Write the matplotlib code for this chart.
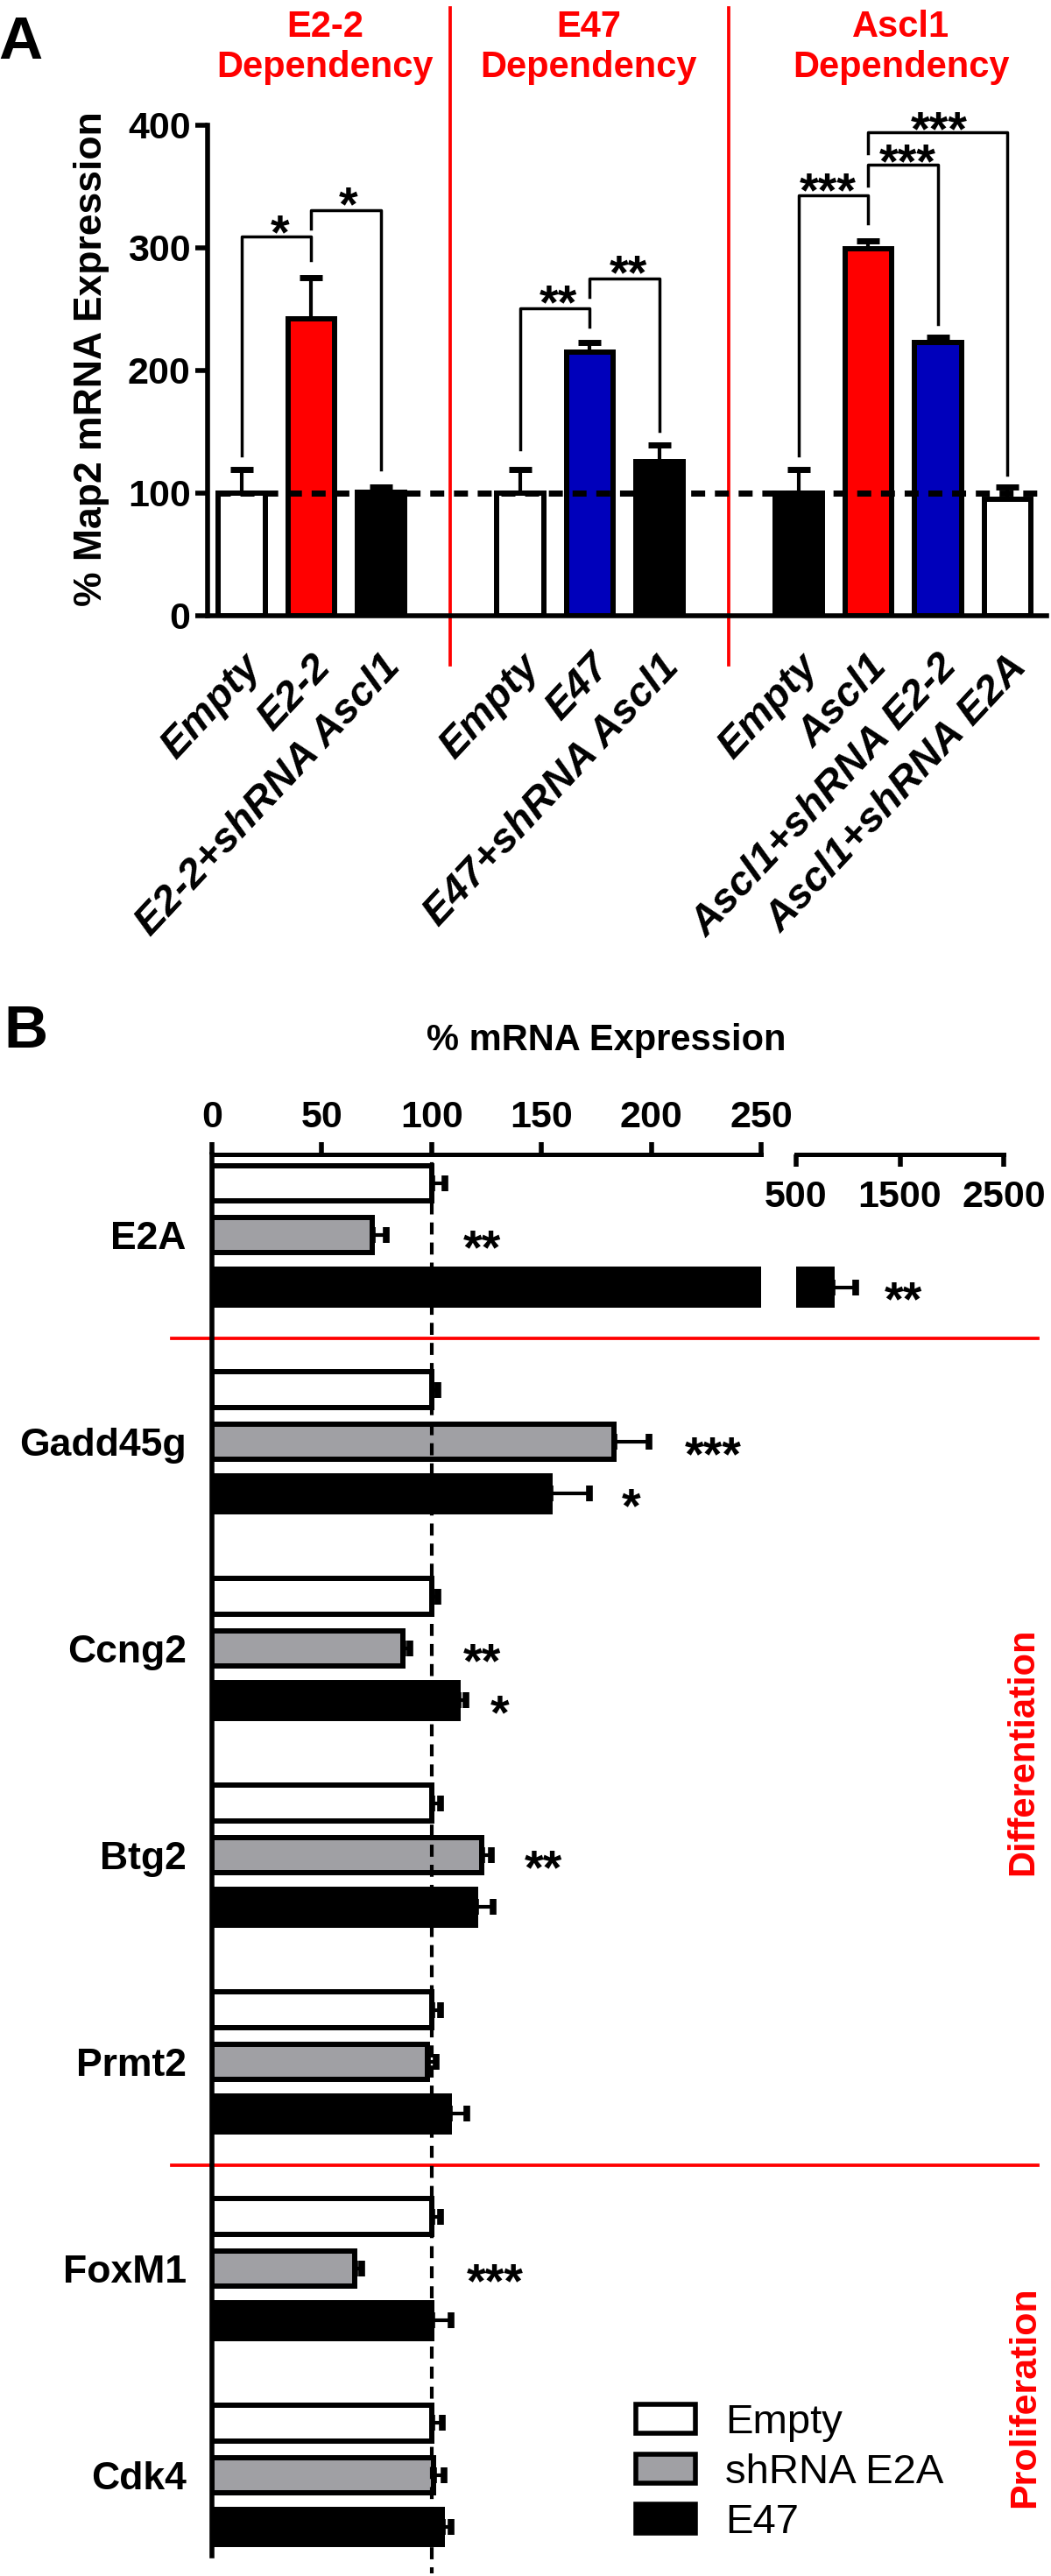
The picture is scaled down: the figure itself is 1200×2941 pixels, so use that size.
import matplotlib
matplotlib.use("Agg")
import matplotlib.pyplot as plt
from matplotlib.patches import Patch
from matplotlib import transforms as mtrans

plt.rcParams['font.family'] = ['Liberation Sans', 'DejaVu Sans']

# ---- panel A: Map2 expression ----
a_labels = ['Empty', 'E2-2', 'E2-2+shRNA Ascl1',
            'Empty', 'E47', 'E47+shRNA Ascl1',
            'Empty', 'Ascl1', 'Ascl1+shRNA E2-2', 'Ascl1+shRNA E2A']
a_pos = [0, 1, 2, 4, 5, 6, 8, 9, 10, 11]
a_vals = [100, 242, 101, 100, 215, 126, 100, 299, 223, 95]
a_sem = [19, 34, 4, 19, 8, 13, 19, 7, 4, 10]
a_colors = ['white', '#ff0000', 'black', 'white', '#0000bb', 'black',
            'black', '#ff0000', '#0000bb', 'white']
a_titles = ['E2-2\nDependency', 'E47\nDependency', 'Ascl1\nDependency']
a_title_x = [1.2, 4.98, 9.47]
a_dividers = [3, 7]
# brackets: x1, x2, top, left leg end, right leg end, stars, star x, star y
a_brackets = [
    (0, 1, 309, 131, 290, '*', 0.55, 323),
    (1, 2, 331, 316, 119, '*', 1.53, 346),
    (4, 5, 251, 136, 236, '**', 4.55, 266),
    (5, 6, 275, 260, 151, '**', 5.55, 290),
    (8, 9, 343, 131, 320, '***', 8.42, 357),
    (9, 10, 368, 351, 238, '***', 9.56, 381),
    (9, 11, 394, 377, 115, '***', 10.02, 407),
]

# ---- panel B: mRNA expression per gene ----
b_genes = ['E2A', 'Gadd45g', 'Ccng2', 'Btg2', 'Prmt2', 'FoxM1', 'Cdk4']
b_series = ['Empty', 'shRNA E2A', 'E47']
b_colors = ['white', '#a0a0a4', 'black']
b_empty = [100, 100, 100, 100, 100, 100, 100]
b_empty_sem = [6, 3, 3, 4, 4, 4, 5]
b_sh = [73, 183, 87, 123, 98, 65, 101]
b_sh_sem = [6.5, 16, 3, 4, 4, 3, 4.5]
b_e47 = [850, 154, 112, 120, 108, 100, 105]
b_e47_sem = [220, 18, 3.5, 8, 8, 9, 4]
b_ticks1 = [0, 50, 100, 150, 200, 250]
b_ticks2 = [500, 1500, 2500]
# stars: gene index, series index, x position, text
b_stars = [(0, 1, 123, '**'), (0, 2, 1533, '**'), (1, 1, 228, '***'), (1, 2, 191, '*'),
           (2, 1, 123, '**'), (2, 2, 131, '*'), (3, 1, 151, '**'), (5, 1, 129, '***')]
b_dividers = [0.5, 4.5]

W, H = 1200, 2941
fig = plt.figure(figsize=(W / 100, H / 100), dpi=100)


def fx(px):
    return px / W


def fy(py):
    return 1 - py / H


def box(l, t, r, b):
    return [fx(l), fy(b), fx(r) - fx(l), fy(t) - fy(b)]


STAR = 40

# =========================
# Panel A
# =========================
ax = fig.add_axes(box(237, 143, 1195, 703))
ax.bar(a_pos, a_vals, width=0.67, color=a_colors, edgecolor='black', linewidth=4.3, zorder=3)
ax.errorbar(a_pos, a_vals, yerr=[[0] * len(a_sem), a_sem], fmt='none', ecolor='black',
            elinewidth=3, capsize=9.4, capthick=5, zorder=2.5)
ax.axhline(100, xmin=0.01, xmax=1, color='black', lw=5, dashes=(2.3, 1.6), zorder=4)

ax.set_xlim(-0.49, 11.56)
ax.set_ylim(0, 400)
for s in ['top', 'right']:
    ax.spines[s].set_visible(False)
for s in ['left', 'bottom']:
    ax.spines[s].set_linewidth(4)
ax.set_yticks([0, 100, 200, 300, 400])
ax.tick_params(axis='y', length=10, width=4, pad=4, labelsize=31)
for t in ax.get_yticklabels():
    t.set_fontweight('bold')
ax.set_xticks(a_pos)
ax.set_xticklabels(a_labels, rotation=47, ha='right', va='center', rotation_mode='anchor',
                   fontsize=34, fontweight='bold', fontstyle='italic')
ax.tick_params(axis='x', length=0, pad=37)
shift = mtrans.ScaledTranslation(0.15, 0, fig.dpi_scale_trans)
for t in ax.get_xticklabels():
    t.set_transform(t.get_transform() + shift)

blend = mtrans.blended_transform_factory(ax.transData, ax.transAxes)
for xd in a_dividers:
    ax.plot([xd, xd], [1.239, -0.1], transform=blend, color='#ff0000', lw=2.7, clip_on=False)
for xt, title in zip(a_title_x, a_titles):
    ax.text(xt, 1.159, title, transform=blend, ha='center', va='center', color='#ff0000',
            fontsize=30, fontweight='bold', linespacing=1.2)

star_tr = mtrans.offset_copy(ax.transData, fig=fig, y=-0.58 * STAR, units='points')
for x1, x2, top, yl, yr, txt, sx, sy in a_brackets:
    ax.plot([x1, x1, x2, x2], [yl, top, top, yr], color='black', lw=2.5, clip_on=False, zorder=5)
    ax.text(sx, sy, txt, transform=star_tr, ha='center', va='baseline',
            fontsize=STAR, fontweight='bold', clip_on=False)

fig.text(fx(105), fy(410), '% Map2 mRNA Expression', rotation=90, ha='center', va='center',
         fontsize=32, fontweight='bold')
fig.text(fx(-2), fy(67), 'A', ha='left', va='baseline', fontsize=50, fontweight='bold')

# =========================
# Panel B
# =========================
axb1 = fig.add_axes(box(242, 1318, 869, 2918))
axb2 = fig.add_axes(box(909, 1318, 1146, 2918))
axb1.patch.set_visible(False)
axb2.patch.set_visible(False)

offsets = [-0.252, 0, 0.252]
vals = [b_empty, b_sh, b_e47]
sems = [b_empty_sem, b_sh_sem, b_e47_sem]
ys = list(range(len(b_genes)))
for a in (axb1, axb2):
    for k in range(3):
        yk = [y + offsets[k] for y in ys]
        a.barh(yk, vals[k], height=0.17, color=b_colors[k], edgecolor='black', linewidth=4.3, zorder=3)
        a.errorbar(vals[k], yk, xerr=[[0] * len(ys), sems[k]], fmt='none', ecolor='black',
                   elinewidth=3, capsize=6.8, capthick=5.5, zorder=2.5)
    a.set_ylim(6.39, -0.39)
    for s in ['right', 'bottom']:
        a.spines[s].set_visible(False)
    a.xaxis.tick_top()

axb1.set_xlim(0, 250)
axb1.spines['left'].set_linewidth(4)
axb1.spines['top'].set_linewidth(3.6)
axb1.set_xticks(b_ticks1)
axb1.set_xticks([250], minor=True)
axb1.tick_params(axis='x', which='major', direction='out', length=10, width=4, pad=6, labelsize=31)
axb1.tick_params(axis='x', which='minor', direction='in', length=10, width=4, top=True,
                 bottom=False, labeltop=False)
for t in axb1.get_xticklabels():
    t.set_fontweight('bold')
axb1.set_yticks(ys)
axb1.set_yticklabels(b_genes, fontsize=32, fontweight='bold')
axb1.tick_params(axis='y', length=0, pad=21)

axb2.set_xlim(500, 2500)
axb2.spines['left'].set_visible(False)
axb2.spines['top'].set_linewidth(3.6)
axb2.set_yticks([])
axb2.set_xticks(b_ticks2)
axb2.set_xticks([500], minor=True)
axb2.tick_params(axis='x', which='major', direction='in', length=10, width=4, pad=-50, labelsize=31)
axb2.tick_params(axis='x', which='minor', direction='out', length=10, width=4, top=True,
                 bottom=False, labeltop=False)
for t in axb2.get_xticklabels():
    t.set_fontweight('bold')

bl = mtrans.blended_transform_factory(axb1.transData, axb1.transAxes)
axb1.plot([100, 100], [1.009, -0.0125], transform=bl, color='black', lw=3, dashes=(3.3, 2.2),
          clip_on=False, zorder=4)
bh = mtrans.blended_transform_factory(axb1.transAxes, axb1.transData)
for yd in b_dividers:
    axb1.plot([-0.073, 1.504], [yd, yd], transform=bh, color='#ff0000', lw=2.7, clip_on=False)

for gi, si, sx, txt in b_stars:
    a = axb2 if sx > 250 else axb1
    tr = mtrans.offset_copy(a.transData, fig=fig, y=-0.58 * STAR, units='points')
    a.text(sx, gi + offsets[si], txt, transform=tr, ha='center', va='baseline',
           fontsize=STAR, fontweight='bold', clip_on=False)

fig.text(fx(692), fy(1188), '% mRNA Expression', ha='center', va='center',
         fontsize=30, fontweight='bold')
fig.text(fx(4), fy(1196), 'B', ha='left', va='baseline', fontsize=50, fontweight='bold')
fig.text(fx(1168), fy(2000), 'Differentiation', rotation=90, ha='center', va='center',
         color='#ff0000', fontsize=30, fontweight='bold')
fig.text(fx(1170), fy(2737), 'Proliferation', rotation=90, ha='center', va='center',
         color='#ff0000', fontsize=31, fontweight='bold')

handles = [Patch(facecolor=c, edgecolor='black', linewidth=4) for c in b_colors]
fig.legend(handles, b_series, loc='upper left', bbox_to_anchor=(fx(726), fy(2744)),
           frameon=False, fontsize=34, handlelength=1.45, handleheight=0.7,
           handletextpad=0.72, labelspacing=0.28, borderpad=0, borderaxespad=0)

fig.savefig('out.png', dpi=100)
